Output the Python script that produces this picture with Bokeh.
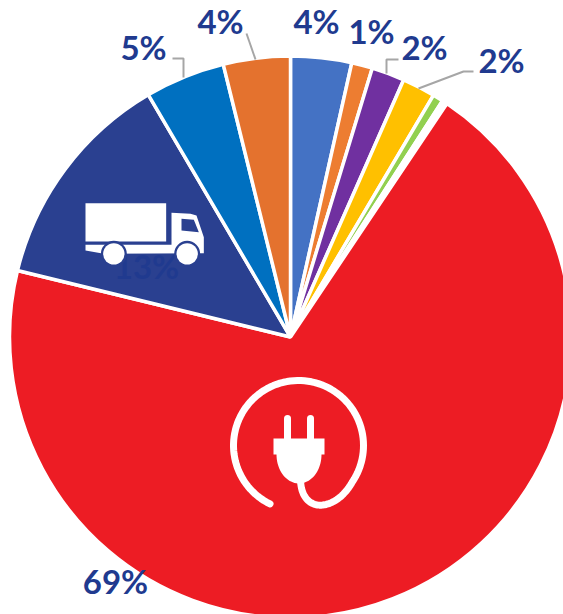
import numpy as np
from bokeh.plotting import figure
from bokeh.models import Range1d
from bokeh.core.properties import value
from bokeh.embed import file_html
from bokeh.resources import INLINE

# Slices clockwise from twelve o'clock
slice_names = ["Blue", "Orange A", "Purple", "Yellow", "Green", "Blank", "Electric", "Truck", "Deep blue", "Orange B"]
slice_values = [3.5, 1.2, 1.9, 1.9, 0.6, 0.3, 69.4, 12.75, 4.6, 3.85]
slice_colors = ["#4472c4", "#ed7d31", "#7030a0", "#ffc000", "#92d050", "#ffffff",
                "#ed1c24", "#2a4090", "#0070c0", "#e4722e"]
label_texts = ["4%", "1%", "2%", "2%", "69%", "13%", "5%", "4%"]

W, H = 563, 614
CX, CY = 290, 336.5   # pie centre in window pixels
R = 281
TEXT = "#203a8f"
GREY = "#a6a6a6"


def X(x):
    return np.asarray(x, dtype=float) - CX


def Y(y):
    return CY - np.asarray(y, dtype=float)


p = figure(width=W, height=H, output_backend="svg", toolbar_location=None,
           x_range=Range1d(-CX, W - CX), y_range=Range1d(CY - H, CY),
           min_border=0, outline_line_color=None, background_fill_color="white")
p.axis.visible = False
p.grid.visible = False

vals = np.array(slice_values)
cum = np.concatenate([[0], np.cumsum(vals)]) / vals.sum() * 2 * np.pi
starts = np.pi / 2 - cum[:-1]
ends = np.pi / 2 - cum[1:]
p.wedge(x=0, y=0, radius=R, start_angle=starts, end_angle=ends, direction="clock",
        fill_color=slice_colors, line_color="white", line_width=3.5)

# Leader lines
leaders = [([172, 183, 183], [58, 58, 77]),
           ([246, 255], [33, 59]),
           ([398, 386, 386], [59, 59, 73]),
           ([473, 463, 418], [71, 71, 88])]
for lx, ly in leaders:
    p.line(X(lx), Y(ly), line_color=GREY, line_width=2)

# Labels
label_x = [316, 371, 424, 501, 115, 146, 143, 220]
label_y = [20, 30, 46, 59, 580, 265, 46, 20]
p.text(X(label_x), Y(label_y), text=label_texts, text_align="center", text_baseline="middle",
       text_font=value("Lato"), text_font_style="bold", text_font_size="33px", text_color=TEXT)


# Truck icon (zoom-crop coordinates of 3x scale)
def tx(v):
    return X(70 + np.asarray(v, dtype=float) / 3)


def ty(v):
    return Y(190 + np.asarray(v, dtype=float) / 3)


p.patch(tx([45, 287, 287, 45]), ty([38, 38, 153, 153]), fill_color="white", line_color=None)
p.patch(tx([45, 303, 303, 360, 378, 400, 400, 100, 45]),
        ty([163, 163, 67, 70, 75, 140, 188, 190, 180]),
        fill_color="white", line_color=None)
p.patch(tx([333, 370, 385, 333]), ty([85, 88, 125, 120]), fill_color="#2a4090", line_color=None)
for wx in (130, 350):
    p.circle(tx([wx]), ty([190]), radius=13, fill_color="#2a4090", line_color=None)
    p.circle(tx([wx]), ty([190]), radius=10.7, fill_color="white", line_color=None)

# Plug icon
a = np.radians(np.linspace(244, -34, 90))
ring_x = 298 + 65 * np.cos(a)
ring_y = 445 - 65 * np.sin(a)
t = np.linspace(0, 1, 40)[:, None]
P = [np.array(q, dtype=float) for q in ((ring_x[-1], ring_y[-1]), (335, 512), (300, 514), (300, 478))]
cord = (1 - t) ** 3 * P[0] + 3 * (1 - t) ** 2 * t * P[1] + 3 * (1 - t) * t ** 2 * P[2] + t ** 3 * P[3]
p.line(X(np.concatenate([ring_x, cord[:, 0]])), Y(np.concatenate([ring_y, cord[:, 1]])),
       line_color="white", line_width=7, line_cap="round", line_join="round")
for px_ in (287, 310):
    p.line(X([px_, px_]), Y([418, 442]), line_color="white", line_width=7, line_cap="round")
b = np.radians(np.linspace(0, 180, 40))
body_x = np.concatenate([[273, 324, 324, 321], 298.5 + 22.5 * np.cos(b), [273]])
body_y = np.concatenate([[438, 438, 454, 454], 454 + 29 * np.sin(b), [454]])
p.patch(X(body_x), Y(body_y), fill_color="white", line_color=None)

open("out.html", "w").write(file_html(p, INLINE))
